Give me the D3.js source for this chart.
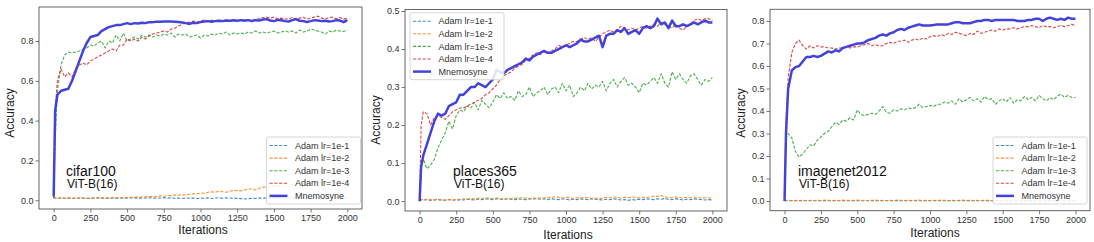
<!DOCTYPE html>
<html>
<head>
<meta charset="utf-8">
<script src="https://cdn.jsdelivr.net/npm/d3@7"></script>
<style>
  body { margin: 0; background: #fff; }
  svg { display: block; }
</style>
</head>
<body>
<div id="chart"></div>
<script>
// iterations shared by every curve
const iters = [0, 10, ...d3.range(25, 2001, 25)];
const seriesNames = ["Adam lr=1e-1", "Adam lr=1e-2", "Adam lr=1e-3", "Adam lr=1e-4", "Mnemosyne"];
const xTicks = [0, 250, 500, 750, 1000, 1250, 1500, 1750, 2000];

// cifar100
const cifarLr1 = [0.02,0.012,0.01,0.012,0.01,0.011,0.009,0.012,0.01,0.011, 0.009,0.011,0.01,0.012,0.01,0.011,0.009,0.012,0.01,0.011,
  0.01,0.012,0.011,0.013,0.01,0.012,0.011,0.013,0.01,0.012, 0.011,0.013,0.011,0.012,0.01,0.011,0.009,0.012,0.01,0.011,
  0.009,0.011,0.01,0.012,0.009,0.011,0.013,0.01,0.012,0.01, 0.011,0.009,0.008,0.006,0.008,0.01,0.009,0.011,0.01,0.012,
  0.011,0.013,0.012,0.013,0.011,0.012,0.013,0.012,0.014,0.012, 0.013,0.012,0.014,0.013,0.012,0.014,0.013,0.012,0.014,0.013, 0.012,0.013];
const cifarLr2 = [0.015,0.012,0.01,0.011,0.01,0.012,0.011,0.01,0.012,0.01, 0.011,0.009,0.012,0.011,0.013,0.01,0.012,0.011,0.013,0.012,
  0.014,0.013,0.015,0.014,0.017,0.016,0.018,0.017,0.02,0.019, 0.022,0.02,0.024,0.023,0.026,0.025,0.028,0.027,0.03,0.032,
  0.033,0.036,0.035,0.04,0.042,0.04,0.045,0.043,0.04,0.046, 0.048,0.05,0.047,0.052,0.055,0.058,0.052,0.06,0.065,0.068,
  0.07,0.072,0.074,0.073,0.076,0.078,0.08,0.079,0.082,0.083, 0.085,0.084,0.087,0.088,0.09,0.089,0.092,0.091,0.093,0.094, 0.095,0.096];
const cifarLr3 = [0.01,0.3,0.55,0.68,0.73,0.745,0.74,0.745,0.75,0.76, 0.765,0.78,0.775,0.79,0.8,0.765,0.8,0.79,0.83,0.8,
  0.84,0.8,0.81,0.82,0.81,0.83,0.82,0.83,0.82,0.83, 0.825,0.835,0.83,0.84,0.82,0.835,0.83,0.835,0.82,0.825,
  0.83,0.815,0.83,0.825,0.835,0.83,0.84,0.835,0.845,0.83, 0.84,0.835,0.84,0.835,0.845,0.84,0.85,0.84,0.845,0.84,
  0.845,0.85,0.84,0.845,0.85,0.845,0.85,0.84,0.855,0.845, 0.85,0.86,0.855,0.85,0.845,0.835,0.85,0.845,0.855,0.85, 0.848,0.855];
const cifarLr4 = [0.01,0.45,0.6,0.66,0.62,0.64,0.62,0.66,0.68,0.69, 0.68,0.7,0.71,0.72,0.73,0.74,0.75,0.76,0.75,0.78,
  0.78,0.81,0.8,0.81,0.8,0.82,0.81,0.825,0.835,0.84, 0.845,0.85,0.845,0.86,0.865,0.875,0.885,0.89,0.895,0.9,
  0.895,0.9,0.905,0.9,0.905,0.9,0.905,0.903,0.905,0.9, 0.905,0.9,0.905,0.9,0.908,0.905,0.91,0.912,0.918,0.92,
  0.915,0.92,0.912,0.915,0.91,0.912,0.918,0.91,0.915,0.92, 0.91,0.915,0.92,0.925,0.915,0.91,0.918,0.92,0.912,0.918, 0.91,0.915];
const cifarMnem = [0.02,0.45,0.53,0.55,0.555,0.56,0.6,0.65,0.7,0.75, 0.79,0.82,0.825,0.83,0.85,0.86,0.87,0.875,0.88,0.88,
  0.885,0.89,0.885,0.89,0.888,0.892,0.89,0.895,0.895,0.897, 0.897,0.898,0.898,0.898,0.897,0.896,0.893,0.89,0.886,0.892,
  0.89,0.895,0.898,0.9,0.897,0.9,0.902,0.9,0.903,0.902, 0.904,0.902,0.905,0.903,0.905,0.9,0.905,0.903,0.908,0.91,
  0.903,0.9,0.906,0.904,0.9,0.898,0.905,0.91,0.902,0.9, 0.896,0.9,0.905,0.903,0.9,0.902,0.898,0.9,0.905,0.903, 0.895,0.905];

// places365
const placesLr1 = [0,0.004,0.003,0.004,0.002,0.003,0.004,0.002,0.003,0.004, 0.003,0.002,0.004,0.003,0.005,0.004,0.003,0.005,0.004,0.006,
  0.005,0.004,0.006,0.005,0.004,0.006,0.005,0.004,0.006,0.005, 0.004,0.006,0.005,0.007,0.005,0.006,0.004,0.006,0.005,0.004,
  0.006,0.005,0.003,0.005,0.004,0.006,0.005,0.004,0.006,0.005, 0.004,0.003,0.005,0.004,0.006,0.005,0.003,0.004,0.002,0.004,
  0.003,0.005,0.004,0.006,0.005,0.004,0.006,0.005,0.007,0.005, 0.004,0.006,0.005,0.003,0.005,0.004,0.006,0.005,0.004,0.003, 0.004,0.003];
const placesLr2 = [0.005,0.004,0.003,0.005,0.004,0.003,0.005,0.004,0.002,0.004, 0.003,0.005,0.004,0.006,0.005,0.007,0.006,0.008,0.007,0.009,
  0.008,0.006,0.008,0.007,0.005,0.007,0.006,0.008,0.007,0.009, 0.008,0.006,0.008,0.007,0.009,0.008,0.01,0.009,0.012,0.01,
  0.008,0.01,0.009,0.007,0.009,0.008,0.01,0.009,0.007,0.008, 0.006,0.008,0.01,0.009,0.011,0.01,0.008,0.01,0.009,0.011,
  0.01,0.008,0.01,0.009,0.011,0.013,0.012,0.015,0.011,0.01, 0.009,0.011,0.01,0.008,0.01,0.009,0.011,0.01,0.008,0.009, 0.008,0.009];
const placesLr3 = [0,0.09,0.11,0.085,0.095,0.11,0.14,0.16,0.18,0.21, 0.19,0.225,0.24,0.235,0.25,0.245,0.26,0.24,0.265,0.255,
  0.245,0.26,0.28,0.27,0.285,0.27,0.275,0.265,0.29,0.275, 0.28,0.3,0.275,0.285,0.29,0.3,0.28,0.295,0.3,0.285,
  0.31,0.29,0.305,0.275,0.285,0.3,0.29,0.31,0.295,0.305, 0.3,0.315,0.29,0.31,0.32,0.3,0.315,0.325,0.305,0.31,
  0.3,0.285,0.31,0.305,0.315,0.325,0.31,0.335,0.31,0.3, 0.34,0.32,0.335,0.32,0.31,0.33,0.335,0.32,0.305,0.32, 0.315,0.325];
const placesLr4 = [0,0.2,0.235,0.23,0.2,0.22,0.225,0.22,0.215,0.225, 0.235,0.24,0.245,0.245,0.25,0.255,0.26,0.265,0.27,0.28,
  0.285,0.295,0.305,0.32,0.33,0.335,0.34,0.35,0.355,0.36, 0.37,0.375,0.385,0.39,0.385,0.395,0.39,0.395,0.4,0.41,
  0.405,0.41,0.415,0.42,0.42,0.425,0.43,0.425,0.43,0.42, 0.43,0.44,0.445,0.45,0.445,0.45,0.46,0.455,0.45,0.455,
  0.45,0.455,0.46,0.455,0.46,0.465,0.46,0.47,0.465,0.46, 0.455,0.465,0.455,0.45,0.46,0.465,0.475,0.48,0.475,0.48, 0.48,0.475];
const placesMnem = [0,0.09,0.12,0.15,0.18,0.21,0.23,0.225,0.23,0.25, 0.255,0.26,0.28,0.28,0.29,0.3,0.3,0.31,0.305,0.3,
  0.31,0.32,0.345,0.34,0.335,0.345,0.35,0.355,0.36,0.365, 0.375,0.37,0.38,0.385,0.39,0.395,0.39,0.39,0.395,0.4,
  0.405,0.41,0.405,0.41,0.415,0.425,0.42,0.42,0.425,0.43, 0.435,0.405,0.435,0.44,0.44,0.45,0.445,0.455,0.44,0.445,
  0.45,0.44,0.455,0.46,0.455,0.46,0.48,0.465,0.47,0.455, 0.475,0.46,0.46,0.465,0.46,0.465,0.47,0.465,0.47,0.475, 0.47,0.47];

// imagenet2012
const imgLr1 = [0,0.001,0.001,0.002,0.001,0.001,0.002,0.001,0.001,0.002, 0.001,0.001,0.002,0.001,0.001,0.002,0.001,0.002,0.001,0.001,
  0.002,0.001,0.001,0.002,0.001,0.001,0.002,0.001,0.001,0.002, 0.001,0.001,0.002,0.001,0.002,0.001,0.001,0.002,0.001,0.001,
  0.002,0.001,0.001,0.002,0.001,0.001,0.002,0.001,0.001,0.002, 0.001,0.002,0.001,0.001,0.002,0.001,0.001,0.002,0.001,0.001,
  0.002,0.001,0.001,0.002,0.001,0.001,0.002,0.001,0.002,0.001, 0.001,0.002,0.001,0.001,0.002,0.001,0.001,0.002,0.001,0.001, 0.002,0.001];
const imgLr2 = [0.003,0.002,0.003,0.002,0.003,0.002,0.004,0.002,0.003,0.002, 0.003,0.002,0.004,0.003,0.002,0.003,0.002,0.004,0.003,0.002,
  0.003,0.004,0.002,0.003,0.002,0.003,0.004,0.002,0.003,0.002, 0.003,0.002,0.004,0.003,0.002,0.003,0.002,0.003,0.004,0.002,
  0.003,0.002,0.003,0.002,0.004,0.003,0.002,0.003,0.002,0.003, 0.004,0.002,0.003,0.002,0.003,0.002,0.004,0.003,0.002,0.003,
  0.002,0.003,0.004,0.002,0.003,0.002,0.003,0.002,0.004,0.003, 0.002,0.003,0.002,0.003,0.004,0.002,0.003,0.002,0.003,0.002, 0.003,0.002];
const imgLr3 = [0,0.28,0.3,0.28,0.22,0.195,0.21,0.23,0.25,0.245, 0.27,0.285,0.3,0.31,0.33,0.35,0.34,0.36,0.355,0.37,
  0.36,0.405,0.385,0.38,0.385,0.39,0.385,0.4,0.42,0.395, 0.39,0.405,0.4,0.41,0.405,0.415,0.41,0.415,0.43,0.415,
  0.42,0.425,0.42,0.43,0.43,0.44,0.435,0.445,0.43,0.455, 0.44,0.45,0.46,0.445,0.455,0.44,0.465,0.45,0.455,0.43,
  0.445,0.455,0.44,0.46,0.435,0.45,0.445,0.465,0.45,0.46, 0.445,0.47,0.455,0.445,0.46,0.45,0.465,0.475,0.46,0.47, 0.46,0.46];
const imgLr4 = [0,0.35,0.55,0.66,0.7,0.715,0.69,0.675,0.69,0.68, 0.69,0.685,0.685,0.68,0.68,0.675,0.68,0.68,0.685,0.68,
  0.685,0.685,0.69,0.695,0.7,0.69,0.695,0.69,0.69,0.7, 0.705,0.7,0.71,0.71,0.715,0.705,0.715,0.72,0.715,0.725,
  0.72,0.73,0.735,0.73,0.74,0.735,0.745,0.74,0.75,0.745, 0.74,0.735,0.745,0.74,0.755,0.745,0.75,0.755,0.76,0.755,
  0.765,0.76,0.765,0.765,0.77,0.765,0.77,0.775,0.775,0.78, 0.775,0.77,0.78,0.775,0.775,0.77,0.775,0.78,0.775,0.78, 0.785,0.78];
const imgMnem = [0,0.3,0.5,0.58,0.595,0.6,0.62,0.64,0.64,0.645, 0.64,0.645,0.655,0.665,0.66,0.67,0.665,0.68,0.685,0.69,
  0.695,0.7,0.7,0.705,0.715,0.72,0.725,0.735,0.74,0.735, 0.745,0.75,0.76,0.765,0.76,0.77,0.775,0.78,0.785,0.78,
  0.78,0.78,0.782,0.785,0.785,0.785,0.785,0.79,0.795,0.795, 0.79,0.79,0.79,0.795,0.8,0.8,0.805,0.805,0.8,0.805,
  0.805,0.805,0.805,0.805,0.805,0.8,0.8,0.8,0.805,0.805, 0.81,0.81,0.8,0.81,0.815,0.81,0.805,0.81,0.805,0.815, 0.81,0.81];

const colors = ["#1f77b4", "#ff7f0e", "#2ca02c", "#d62728", "#4343dc"];

// layout of the three panels (pixels)
const panels = [
  { title: "cifar100", series: [cifarLr1, cifarLr2, cifarLr3, cifarLr4, cifarMnem],
    box: [39, 7, 362, 209], yDomain: [-0.044, 0.971], yTicks: [0, 0.2, 0.4, 0.6, 0.8],
    note: [66, 176], legend: [266.5, 137], xLab: [203, 234], yLab: [14, 113] },
  { title: "places365", series: [placesLr1, placesLr2, placesLr3, placesLr4, placesMnem],
    box: [405, 9.5, 727, 211], yDomain: [-0.026, 0.504], yTicks: [0, 0.1, 0.2, 0.3, 0.4, 0.5],
    note: [453, 176], legend: [410, 12.7], xLab: [568, 239], yLab: [380, 120] },
  { title: "imagenet2012", series: [imgLr1, imgLr2, imgLr3, imgLr4, imgMnem],
    box: [770, 9.3, 1090, 210.7], yDomain: [-0.043, 0.852], yTicks: [0, 0.1, 0.2, 0.3, 0.4, 0.5, 0.6, 0.7, 0.8],
    note: [798, 176], legend: [993, 137], xLab: [935, 237], yLab: [745, 113] }
];

const width = 1094, height = 242;
const svg = d3.select("#chart").append("svg")
  .attr("width", width).attr("height", height)
  .style("font-family", "'Liberation Sans', Arial, sans-serif");

panels.forEach((p, pi) => {
  const [x0, y0, x1, y1] = p.box;
  const x = d3.scaleLinear().domain([-100, 2100]).range([x0, x1]);
  const y = d3.scaleLinear().domain(p.yDomain).range([y1, y0]);
  const g = svg.append("g");

  // clip
  g.append("clipPath").attr("id", "clip" + pi)
    .append("rect").attr("x", x0).attr("y", y0).attr("width", x1 - x0).attr("height", y1 - y0);

  // axes
  const xa = g.append("g").attr("transform", `translate(0,${y1})`)
    .call(d3.axisBottom(x).tickValues(xTicks).tickSize(3.5).tickPadding(2).tickFormat(d3.format("d")));
  const ya = g.append("g").attr("transform", `translate(${x0},0)`)
    .call(d3.axisLeft(y).tickValues(p.yTicks).tickSize(3.5).tickPadding(2).tickFormat(d3.format(".1f")));
  [xa, ya].forEach(a => {
    a.select(".domain").remove();
    a.selectAll("line").attr("stroke", "#555").attr("stroke-width", 0.8);
    a.selectAll("text").attr("fill", "#333").style("font-family", "'Liberation Sans', Arial, sans-serif").style("font-size", "9px");
  });

  // lines
  const line = d3.line().x((d, i) => x(iters[i])).y(d => y(d));
  const lines = g.append("g").attr("clip-path", `url(#clip${pi})`);
  p.series.forEach((vals, si) => {
    const mn = si === 4;
    lines.append("path")
      .datum(vals)
      .attr("fill", "none")
      .attr("stroke", colors[si])
      .attr("stroke-width", mn ? 2.5 : 1.1)
      .attr("stroke-opacity", mn ? 1 : 0.85)
      .attr("stroke-dasharray", mn ? null : "3.2,1.6")
      .attr("stroke-linejoin", "round")
      .attr("d", line);
  });

  // frame
  g.append("rect").attr("x", x0).attr("y", y0).attr("width", x1 - x0).attr("height", y1 - y0)
    .attr("fill", "none").attr("stroke", "#555").attr("stroke-width", 0.9);

  // axis labels
  g.append("text").attr("x", p.xLab[0]).attr("y", p.xLab[1]).attr("text-anchor", "middle")
    .style("font-size", "12px").attr("fill", "#222").text("Iterations");
  g.append("text").attr("transform", `translate(${p.yLab[0]},${p.yLab[1]}) rotate(-90)`)
    .attr("text-anchor", "middle").style("font-size", "12px").attr("fill", "#222").text("Accuracy");

  // annotation
  g.append("text").attr("x", p.note[0]).attr("y", p.note[1])
    .style("font-size", "14px").attr("fill", "#111").text(p.title);
  g.append("text").attr("x", p.note[0] + 1).attr("y", p.note[1] + 12)
    .style("font-size", "12px").attr("fill", "#111").text("ViT-B(16)");

  // legend
  const [lx, ly] = p.legend;
  const lg = g.append("g").attr("transform", `translate(${lx},${ly})`);
  lg.append("rect").attr("width", 94).attr("height", 67).attr("rx", 2)
    .attr("fill", "#fff").attr("fill-opacity", 0.85).attr("stroke", "#ccc").attr("stroke-width", 0.8);
  seriesNames.forEach((name, si) => {
    const ry = 8.5 + si * 12.6;
    const mn = si === 4;
    lg.append("line").attr("x1", 3).attr("x2", 21).attr("y1", ry).attr("y2", ry)
      .attr("stroke", colors[si]).attr("stroke-width", mn ? 2.5 : 1.1)
      .attr("stroke-opacity", mn ? 1 : 0.85)
      .attr("stroke-dasharray", mn ? null : "3.2,1.6");
    lg.append("text").attr("x", 28.5).attr("y", ry).attr("dy", "0.35em")
      .style("font-size", "9px").attr("fill", "#333").text(name);
  });
});
</script>
</body>
</html>
